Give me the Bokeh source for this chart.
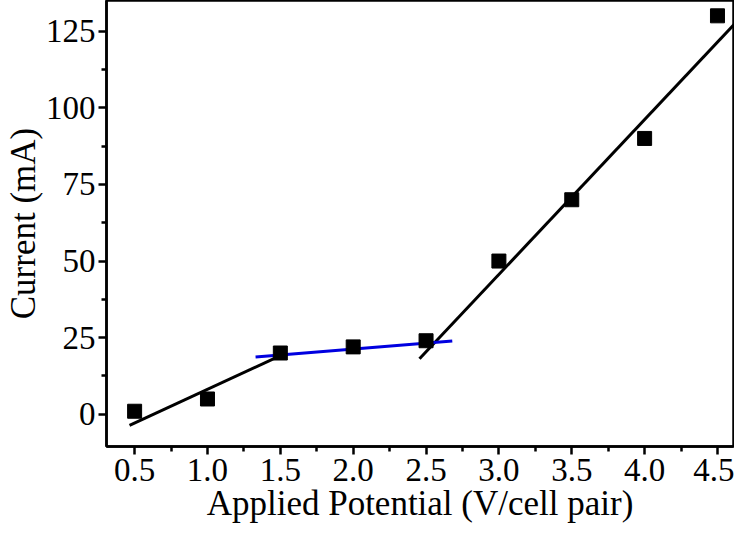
from bokeh.plotting import figure
from bokeh.models import FixedTicker
from bokeh.embed import file_html
from bokeh.resources import INLINE

# Data points
potential = [0.5, 1.0, 1.5, 2.0, 2.5, 3.0, 3.5, 4.0, 4.5]
current = [1, 5, 20, 22, 24, 50, 70, 90, 130]

# Fit line endpoints
fit1_x = [0.465, 1.53]
fit1_y = [-3.6, 19.8]
fit2_x = [1.33, 2.68]
fit2_y = [18.7, 23.9]
fit3_x = [2.455, 4.62]
fit3_y = [18.1, 127.5]

x_ticks = [0.5, 1.0, 1.5, 2.0, 2.5, 3.0, 3.5, 4.0, 4.5]
x_minor = [0.75, 1.25, 1.75, 2.25, 2.75, 3.25, 3.75, 4.25]
y_ticks = [0, 25, 50, 75, 100, 125]
y_minor = [12.5, 37.5, 62.5, 87.5, 112.5]

FONT = "Liberation Serif"

p = figure(width=734, height=525, x_range=(0.307, 4.61), y_range=(-10.5, 135),
           output_backend="svg", toolbar_location=None,
           min_border_left=80, min_border_right=1, min_border_top=0, min_border_bottom=78)

p.xgrid.visible = False
p.ygrid.visible = False
p.outline_line_color = "black"
p.outline_line_width = 2.5
p.background_fill_color = "white"
p.border_fill_color = "white"

for ax in (p.xaxis[0], p.yaxis[0]):
    ax.axis_line_width = 2.5
    ax.axis_line_color = "black"
    ax.major_tick_line_width = 2.5
    ax.minor_tick_line_width = 2.5
    ax.major_tick_out = 8
    ax.major_tick_in = 0
    ax.minor_tick_out = 5
    ax.minor_tick_in = 0
    ax.major_label_text_font = FONT
    ax.major_label_text_font_size = "33px"
    ax.major_label_text_color = "black"
    ax.axis_label_text_font = FONT
    ax.axis_label_text_font_size = "35px"
    ax.axis_label_text_font_style = "normal"
    ax.axis_label_text_color = "black"

p.xaxis[0].ticker = FixedTicker(ticks=x_ticks, minor_ticks=x_minor)
p.yaxis[0].ticker = FixedTicker(ticks=y_ticks, minor_ticks=y_minor)
p.xaxis[0].major_label_overrides = {t: f"{t:.1f}" for t in x_ticks}
p.xaxis[0].axis_label = "Applied Potential (V/cell pair)"
p.yaxis[0].axis_label = "Current (mA)"
p.xaxis[0].major_label_standoff = 4
p.yaxis[0].major_label_standoff = 3
p.xaxis[0].axis_label_standoff = 0
p.yaxis[0].axis_label_standoff = 0

p.line(fit1_x, fit1_y, line_color="black", line_width=3)
p.line(fit3_x, fit3_y, line_color="black", line_width=3)
p.line(fit2_x, fit2_y, line_color="#0000e0", line_width=3)
p.scatter(potential, current, marker="square", size=14, fill_color="black", line_color="black")

open("out.html", "w").write(file_html(p, INLINE))
